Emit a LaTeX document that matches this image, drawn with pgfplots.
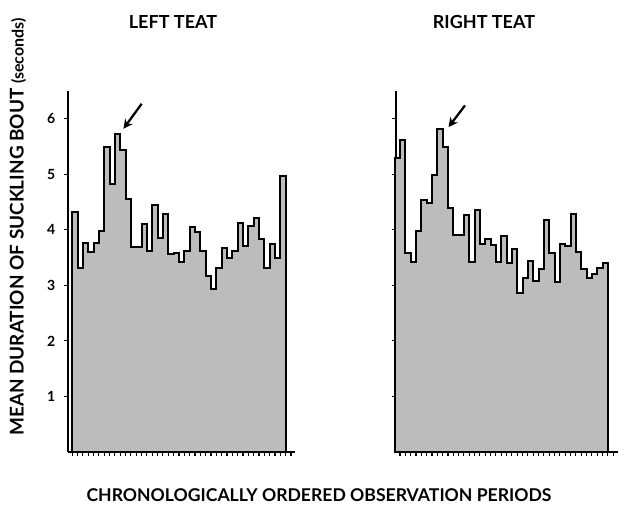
\documentclass[border=0pt]{standalone}
\usepackage{pgfplots}
\pgfplotsset{compat=1.18}
\usetikzlibrary{arrows.meta}
\usepackage{fontspec}
\setmainfont{Lato}
\definecolor{fillgray}{RGB}{188,188,188}
\begin{document}
\begin{tikzpicture}
\useasboundingbox (0,0) rectangle (473.25pt,381pt);
\pgfplotsset{
  panel/.style={
    scale only axis,
    height=270.75pt,
    anchor=south west,
    ymin=0, ymax=6.5,
    axis x line*=bottom, axis y line*=left,
    axis line style={line width=1.8pt},
    tick align=outside,
    major tick length=3pt,
    xtick={0,...,41},
    xticklabels={},
    ytick={1,2,3,4,5,6},
    tick style={line width=0.8pt,black},
    /pgf/number format/assume math mode=true,
    yticklabel style={font=\bfseries\fontsize{10.5}{12}\selectfont, xshift=-3pt},
    clip=false,
  }
}
\begin{axis}[panel, at={(51pt,42pt)}, width=170.25pt, xmin=-0.8, xmax=41.75]
\addplot[const plot, draw=black, line width=1.5pt, fill=fillgray] coordinates {
(0,4.32) (1,3.32) (2,3.76) (3,3.60) (4,3.76) (5,3.98) (6,5.49) (7,4.83) (8,5.73) (9,5.43)
(10,4.56) (11,3.69) (12,3.69) (13,4.10) (14,3.62) (15,4.44) (16,3.86) (17,4.28) (18,3.56) (19,3.58)
(20,3.42) (21,3.62) (22,4.05) (23,3.96) (24,3.62) (25,3.17) (26,2.93) (27,3.32) (28,3.68) (29,3.50)
(30,3.62) (31,4.13) (32,3.71) (33,4.07) (34,4.22) (35,3.83) (36,3.32) (37,3.74) (38,3.50) (39,4.97)
(40,4.97)
} \closedcycle;
\draw[-{Stealth[length=7pt,width=7pt]}, line width=1.7pt] (axis cs:13.0,6.27) -- (axis cs:9.6,5.82);
\end{axis}
\begin{axis}[panel, at={(297pt,42pt)}, width=166.5pt, xmin=0.25, xmax=41.9, yticklabels={}]
\addplot[const plot, draw=black, line width=1.5pt, fill=fillgray] coordinates {
(0,5.30) (1,5.61) (2,3.59) (3,3.42) (4,3.98) (5,4.54) (6,4.48) (7,4.98) (8,5.81) (9,5.49)
(10,4.40) (11,3.90) (12,3.90) (13,4.26) (14,3.42) (15,4.36) (16,3.75) (17,3.84) (18,3.72) (19,3.43)
(20,3.89) (21,3.40) (22,3.66) (23,2.87) (24,3.14) (25,3.44) (26,3.08) (27,3.30) (28,4.18) (29,3.58)
(30,3.07) (31,3.75) (32,3.71) (33,4.28) (34,3.60) (35,3.30) (36,3.14) (37,3.20) (38,3.32) (39,3.41)
(40,3.41)
} \closedcycle;
\draw[-{Stealth[length=7pt,width=7pt]}, line width=1.7pt] (axis cs:13.2,6.24) -- (axis cs:10.1,5.85);
\end{axis}
\node[font=\bfseries\fontsize{13.5}{15}\selectfont] at (129.75pt,364.5pt) {LEFT TEAT};
\node[font=\bfseries\fontsize{13.5}{15}\selectfont] at (363pt,364.5pt) {RIGHT TEAT};
\node[rotate=90, font=\bfseries\fontsize{14.2}{16}\selectfont] at (13.5pt,210.75pt) {MEAN DURATION OF SUCKLING BOUT {\fontsize{12}{13}\selectfont(seconds)}};
\node[font=\bfseries\fontsize{13.2}{15}\selectfont] at (239.25pt,9.75pt) {CHRONOLOGICALLY ORDERED OBSERVATION PERIODS};
\end{tikzpicture}
\end{document}
